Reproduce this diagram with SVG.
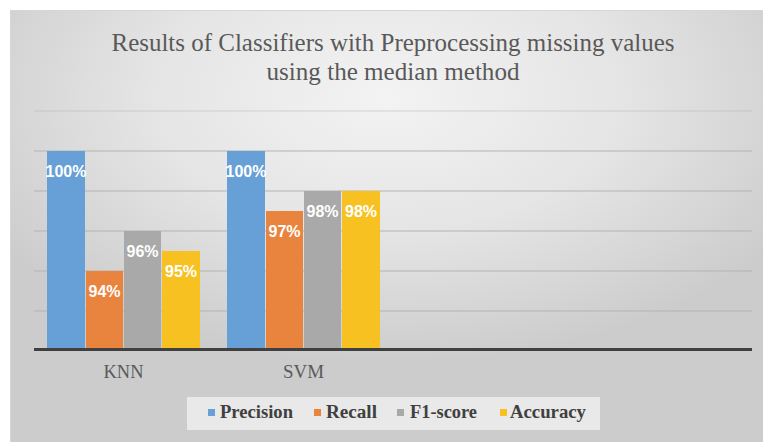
<svg xmlns="http://www.w3.org/2000/svg" width="763" height="442" viewBox="0 0 763 442">
<defs>
<radialGradient id="bg" cx="0.5" cy="0.2" r="0.62" gradientUnits="objectBoundingBox">
<stop offset="0" stop-color="#f3f3f3"/>
<stop offset="0.5" stop-color="#e5e5e5"/>
<stop offset="1" stop-color="#cccccc"/>
</radialGradient>
<style>
.grid{stroke:#b3b3b3;stroke-width:1}
.lbl{font-family:"Liberation Sans",Arial,sans-serif;font-weight:bold;font-size:16px;fill:#ffffff;text-anchor:middle}
.cat{font-family:"Liberation Serif","Times New Roman",serif;font-size:18px;fill:#595959;text-anchor:middle}
.leg{font-family:"Liberation Serif","Times New Roman",serif;font-weight:bold;font-size:18px;fill:#404040}
.title{font-family:"Liberation Serif","Times New Roman",serif;font-size:25px;fill:#595959;text-anchor:middle}
.p{fill:#66a0d7}.r{fill:#e9843f}.f{fill:#a9a9a9}.a{fill:#f8c122}
</style>
</defs>
<rect x="0" y="0" width="763" height="442" fill="#ffffff"/>
<rect x="10.5" y="10.5" width="753" height="432" fill="url(#bg)" stroke="#d6d6d6" stroke-width="1"/>
<g id="title">
<text class="title" x="393" y="51" textLength="563" lengthAdjust="spacingAndGlyphs">Results of Classifiers with Preprocessing missing values</text>
<text class="title" x="393" y="80" textLength="253" lengthAdjust="spacingAndGlyphs">using the median method</text>
</g>
<g id="gridlines">
<line class="grid" x1="34" y1="111" x2="752" y2="111" stroke-opacity="0.5"/>
<line class="grid" x1="34" y1="151" x2="752" y2="151"/>
<line class="grid" x1="34" y1="191" x2="752" y2="191"/>
<line class="grid" x1="34" y1="231" x2="752" y2="231"/>
<line class="grid" x1="34" y1="271" x2="752" y2="271"/>
<line class="grid" x1="34" y1="311" x2="752" y2="311"/>
</g>
<g id="knn">
<rect class="p" x="47" y="151" width="38" height="198"/>
<rect class="r" x="86" y="271" width="37" height="78"/>
<rect class="f" x="124" y="231" width="37" height="118"/>
<rect class="a" x="162" y="251" width="38" height="98"/>
<text class="lbl" x="66" y="177">100%</text>
<text class="lbl" x="104.5" y="297">94%</text>
<text class="lbl" x="142.5" y="257">96%</text>
<text class="lbl" x="181" y="277">95%</text>
<text class="cat" x="123.5" y="378" textLength="40" lengthAdjust="spacingAndGlyphs">KNN</text>
</g>
<g id="svm">
<rect class="p" x="227" y="151" width="38" height="198"/>
<rect class="r" x="266" y="211" width="37" height="138"/>
<rect class="f" x="304" y="191" width="37" height="158"/>
<rect class="a" x="342" y="191" width="38" height="158"/>
<text class="lbl" x="246" y="177">100%</text>
<text class="lbl" x="284.5" y="237">97%</text>
<text class="lbl" x="322.5" y="217">98%</text>
<text class="lbl" x="361" y="217">98%</text>
<text class="cat" x="303.5" y="378" textLength="41" lengthAdjust="spacingAndGlyphs">SVM</text>
</g>
<g id="axis">
<line x1="34" y1="349.5" x2="752" y2="349.5" stroke="#404040" stroke-width="3"/>
</g>
<g id="legend">
<rect x="187" y="397" width="413" height="33" fill="#ededed" fill-opacity="0.85"/>
<rect class="p" x="208" y="409" width="7" height="7"/>
<text class="leg" x="220" y="418" textLength="73" lengthAdjust="spacingAndGlyphs">Precision</text>
<rect class="r" x="314" y="409" width="7" height="7"/>
<text class="leg" x="326" y="418" textLength="51" lengthAdjust="spacingAndGlyphs">Recall</text>
<rect class="f" x="397" y="409" width="7" height="7"/>
<text class="leg" x="410" y="418" textLength="67" lengthAdjust="spacingAndGlyphs">F1-score</text>
<rect class="a" x="500" y="409" width="7" height="7"/>
<text class="leg" x="510" y="418" textLength="76" lengthAdjust="spacingAndGlyphs">Accuracy</text>
</g>
</svg>
